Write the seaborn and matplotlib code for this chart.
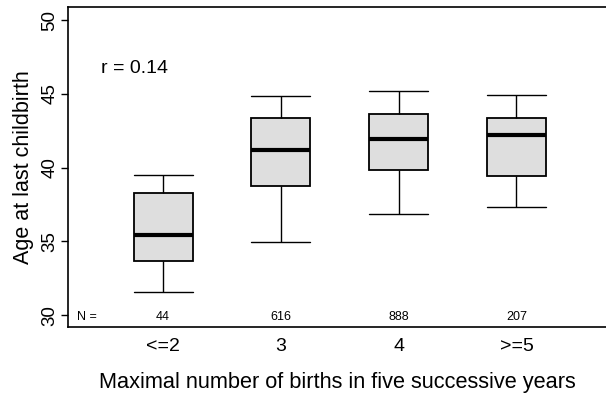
import numpy as np
import pandas as pd
import seaborn as sns
import matplotlib
matplotlib.use("Agg")
import matplotlib.pyplot as plt

# Five-number summaries (min, Q1, median, Q3, max)
categories = ["<=2", "3", "4", ">=5"]
whisker_low = [31.55, 34.97, 36.86, 37.32]
q1 = [33.66, 38.79, 39.82, 39.42]
median = [35.42, 41.23, 41.92, 42.20]
q3 = [38.29, 43.39, 43.66, 43.39]
whisker_high = [39.49, 44.88, 45.20, 44.95]
counts = [44, 616, 888, 207]
r_text = "r = 0.14"

rows = []
for i, c in enumerate(categories):
    for v in (whisker_low[i], q1[i], median[i], q3[i], whisker_high[i]):
        rows.append({"group": c, "age": v})
df = pd.DataFrame(rows)

sns.set_theme(style="white")
plt.rcParams["font.family"] = ["Liberation Sans", "DejaVu Sans"]
plt.rcParams["text.color"] = "black"
plt.rcParams["axes.labelcolor"] = "black"
plt.rcParams["xtick.color"] = "black"
plt.rcParams["ytick.color"] = "black"

fig = plt.figure(figsize=(6.06, 3.95), dpi=100)
ax = fig.add_axes([68 / 606, 1 - 327 / 395, 1 - 68 / 606, (327 - 7.3) / 395])

sns.boxplot(
    data=df, x="group", y="age", order=categories, ax=ax,
    whis=np.inf, width=0.5, color="#dedede", linecolor="black",
    linewidth=1.0, capwidths=0.5,
    medianprops=dict(color="black", linewidth=3.0),
    boxprops=dict(facecolor="#dedede", edgecolor="black", linewidth=1.3),
)

ax.set_xlim(-0.807, 3.76)
ax.set_ylim(29.2, 50.88)
ax.set_yticks([30, 35, 40, 45, 50])
ax.set_yticklabels(["30", "35", "40", "45", "50"], rotation=90, va="center", fontsize=13.5)
ax.tick_params(axis="y", direction="out", length=5, width=1, color="black", labelcolor="black", pad=2, left=True)
ax.tick_params(axis="x", length=0, labelsize=14, labelcolor="black", pad=8)

for s in ["left", "bottom", "top"]:
    ax.spines[s].set_visible(True)
    ax.spines[s].set_color("black")
    ax.spines[s].set_linewidth(1.2)
ax.spines["right"].set_visible(False)

ax.set_ylabel("Age at last childbirth", fontsize=15.5, labelpad=5, color="black")
ax.set_xlabel("Maximal number of births in five successive years", fontsize=15.7, labelpad=12, color="black")

ax.text(-0.53, 46.7, r_text, fontsize=14, ha="left", va="center", color="black")

ax.text(-0.73, 29.85, "N =", fontsize=9, ha="left", va="center", color="black")
for i, n in enumerate(counts):
    ax.text(i, 29.85, str(n), fontsize=9, ha="center", va="center", color="black")

fig.savefig("out.png", dpi=100)
